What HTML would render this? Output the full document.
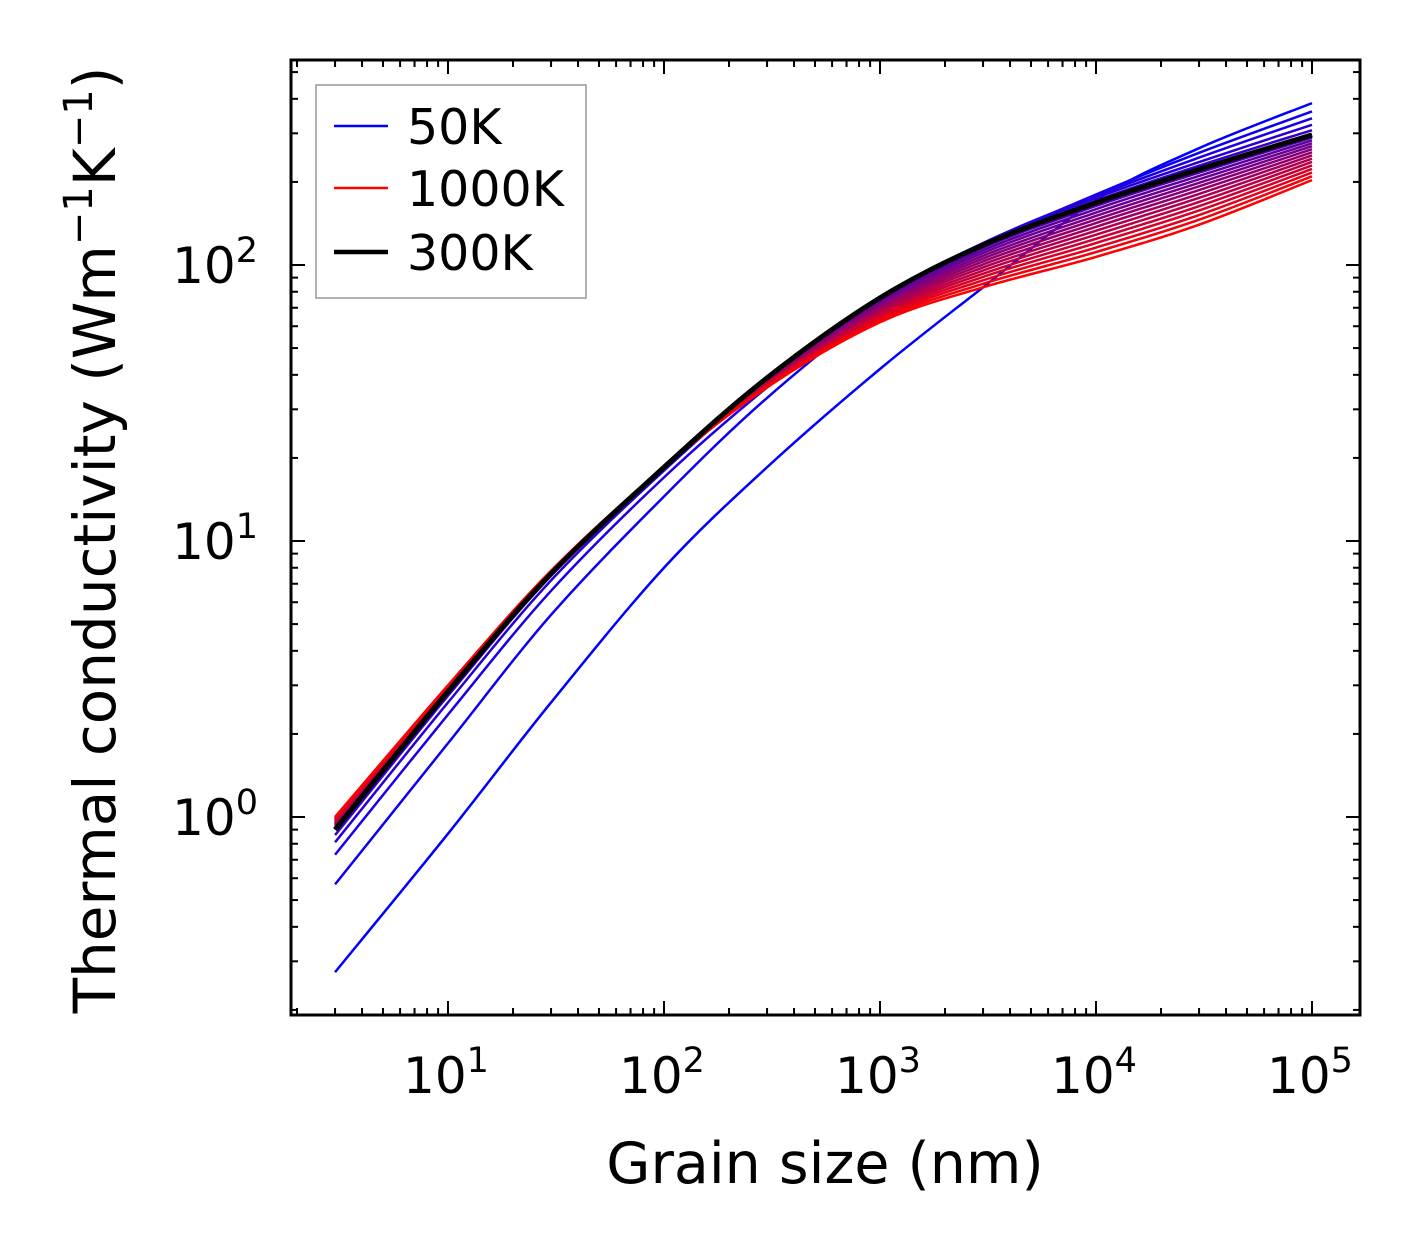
<!DOCTYPE html>
<html><head><meta charset="utf-8">
<style>
html,body{margin:0;padding:0;background:#fff;}
svg{display:block;font-family:"DejaVu Sans","Liberation Sans",sans-serif;}
</style></head>
<body>
<svg id="chart" width="1421" height="1254" viewBox="0 0 1421 1254" xmlns="http://www.w3.org/2000/svg">
<rect x="0" y="0" width="1421" height="1254" fill="#fff"/>
<g id="ticks"></g>
<g id="curves"></g>
<rect x="291" y="60" width="1069" height="955" fill="none" stroke="#000" stroke-width="3"/>
<g id="labels"></g>
<text x="825" y="1183" font-size="57" text-anchor="middle">Grain size (nm)</text>
<text transform="translate(115,540) rotate(-90)" font-size="58" text-anchor="middle">Thermal conductivity (Wm<tspan dy="-23" font-size="40">−1</tspan><tspan dy="23">K</tspan><tspan dy="-23" font-size="40">−1</tspan><tspan dy="23">)</tspan></text>
<g>
<rect x="316" y="85" width="270" height="213" fill="#fff" stroke="#999" stroke-width="1.5"/>
<line x1="334" y1="126" x2="388" y2="126" stroke="#0000ff" stroke-width="2.5"/>
<text x="407" y="144" font-size="49">50K</text>
<line x1="334" y1="188" x2="388" y2="188" stroke="#ff0000" stroke-width="2.5"/>
<text x="407" y="206" font-size="49">1000K</text>
<line x1="334" y1="252" x2="388" y2="252" stroke="#000" stroke-width="4.5"/>
<text x="407" y="270" font-size="49">300K</text>
</g>
</svg>
<script>
const grainSizes=[3,10,30,100,300,1000,3000,1e4,3e4,1e5];
const temps=[50,100,150,200,250,300,350,400,450,500,550,600,650,700,750,800,850,900,950,1000];
const k50=[0.274,0.87,2.6,8,18.5,42,83,172,265,386];
const k100=[0.57,1.85,5.4,14.5,33,70,118,180,255,360];
const k150=[0.73,2.35,6.6,17,36,74,120,178,245,340];
const k200=[0.81,2.6,7.2,18,38,76,120,175,236,322];
const k250=[0.86,2.75,7.5,18.4,39,76,119,171,229,308];
const k300=[0.9,2.85,7.6,18.5,39,76,118,168,222,296];
const k350=[0.91,2.86,7.61,18.5,38.8,75,115.5,163.6,216.1,289.4];
const k400=[0.91,2.87,7.63,18.5,38.6,74,113,159.3,210.3,282.7];
const k450=[0.92,2.88,7.64,18.5,38.4,73,110.5,154.9,204.4,276.1];
const k500=[0.93,2.89,7.66,18.5,38.2,72,108,150.6,198.6,269.4];
const k550=[0.94,2.9,7.67,18.5,37.9,71,105.5,146.2,192.7,262.8];
const k600=[0.94,2.91,7.69,18.5,37.7,70,103,141.9,186.9,256.1];
const k650=[0.95,2.93,7.7,18.5,37.5,69,100.5,137.5,181,249.5];
const k700=[0.96,2.94,7.71,18.5,37.3,68,98,133.1,175.1,242.8];
const k750=[0.96,2.95,7.73,18.5,37.1,67,95.5,128.8,169.3,236.2];
const k800=[0.97,2.96,7.74,18.5,36.9,66,93,124.4,163.4,229.5];
const k850=[0.98,2.97,7.76,18.5,36.6,65,90.5,120.1,157.6,222.9];
const k900=[0.99,2.98,7.77,18.5,36.4,64,88,115.7,151.7,216.2];
const k950=[0.99,2.99,7.79,18.5,36.2,63,85.5,111.4,145.9,209.6];
const k1000=[1.0,3.0,7.8,18.5,36,62,83,107,140,203];
const series=[k50,k100,k150,k200,k250,k300,k350,k400,k450,k500,k550,k600,k650,k700,k750,k800,k850,k900,k950,k1000];
const xTickExps=[1,2,3,4,5];
const yTickExps=[0,1,2];

const NS="http://www.w3.org/2000/svg";
const X0=291,X1=1360,Y0=60,Y1=1015;
function xs(v){return 448+(Math.log10(v)-1)*216;}
function ys(v){return 817-Math.log10(v)*276;}
function mk(tag,attrs,parent){const e=document.createElementNS(NS,tag);for(const k in attrs)e.setAttribute(k,attrs[k]);parent.appendChild(e);return e;}

const tg=document.getElementById('ticks');
for(let d=0;d<=5;d++){for(let m=1;m<10;m++){const v=m*Math.pow(10,d);const x=xs(v);if(x<X0||x>X1)continue;const L=m===1?14:7;
 const t1=mk('line',{x1:x,y1:Y1,x2:x,y2:Y1-L,stroke:'#000','stroke-width':2},tg);
 
 
 const t2=mk('line',{x1:x,y1:Y0,x2:x,y2:Y0+L,stroke:'#000','stroke-width':2},tg);
 
 }}
for(let d=-1;d<=2;d++){for(let m=1;m<10;m++){const v=m*Math.pow(10,d);const y=ys(v);if(y<Y0||y>Y1)continue;const L=m===1?14:7;
 const t1=mk('line',{x1:X0,y1:y,x2:X0+L,y2:y,stroke:'#000','stroke-width':2},tg);
 
 
 const t2=mk('line',{x1:X1,y1:y,x2:X1-L,y2:y,stroke:'#000','stroke-width':2},tg);
 
 }}

const lg=document.getElementById('labels');
xTickExps.forEach(e=>{const t=mk('text',{x:xs(Math.pow(10,e))-2,y:1093,'font-size':50,'text-anchor':'middle'},lg);
 
 
 t.innerHTML='10<tspan dy="-21" font-size="35">'+e+'</tspan>';});
yTickExps.forEach(e=>{const t=mk('text',{x:258,y:ys(Math.pow(10,e))+18,'font-size':50,'text-anchor':'end'},lg);
 
 
 t.innerHTML='10<tspan dy="-21" font-size="35">'+e+'</tspan>';});

function pathFor(vals){
 const p=grainSizes.map((g,i)=>[xs(g),ys(vals[i])]);
 let d='M'+p[0][0]+','+p[0][1];
 for(let i=0;i<p.length-1;i++){const a=p[Math.max(i-1,0)],b=p[i],c=p[i+1],e=p[Math.min(i+2,p.length-1)];
  const c1=[b[0]+(c[0]-a[0])/6,b[1]+(c[1]-a[1])/6],c2=[c[0]-(e[0]-b[0])/6,c[1]-(e[1]-b[1])/6];
  d+=' C'+c1[0]+','+c1[1]+' '+c2[0]+','+c2[1]+' '+c[0]+','+c[1];}
 return d;}

const cg=document.getElementById('curves');
series.forEach((vals,i)=>{const t=i/(series.length-1);
 const col='rgb('+Math.round(255*t)+',0,'+Math.round(255*(1-t))+')';
 const p=mk('path',{d:pathFor(vals),fill:'none',stroke:col,'stroke-width':2.5},cg);
 
 });
const b=mk('path',{d:pathFor(k300),fill:'none',stroke:'#000','stroke-width':5},cg);


</script>
</body></html>
